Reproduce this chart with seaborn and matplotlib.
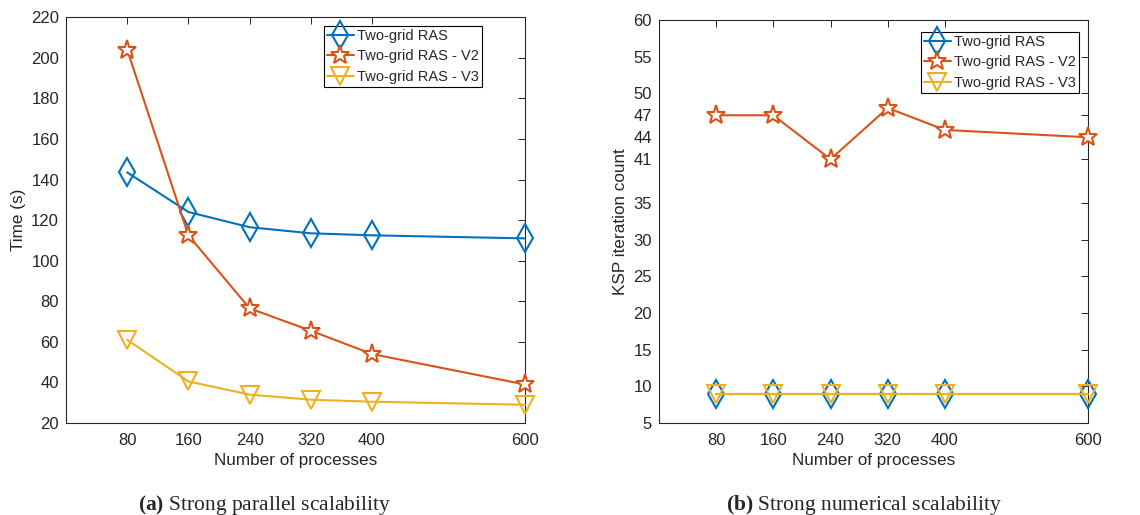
import matplotlib
matplotlib.use("Agg")
import matplotlib.pyplot as plt
import seaborn as sns
import pandas as pd

processes = [80, 160, 240, 320, 400, 600]
series_names = ["Two-grid RAS", "Two-grid RAS - V2", "Two-grid RAS - V3"]

time_ras = [143.5, 124.0, 116.5, 113.5, 112.5, 111.0]
time_v2 = [204.0, 112.5, 76.5, 65.5, 54.0, 39.0]
time_v3 = [61.0, 40.5, 34.0, 31.5, 30.5, 29.0]

iters_ras = [9, 9, 9, 9, 9, 9]
iters_v2 = [47, 47, 41, 48, 45, 44]
iters_v3 = [9, 9, 9, 9, 9, 9]

time_ticks = [20, 40, 60, 80, 100, 120, 140, 160, 180, 200, 220]
iter_ticks = [5, 10, 15, 20, 25, 30, 35, 41, 44, 47, 50, 55, 60]

colors = ["#0072BD", "#D95319", "#EDB120"]
markers = ["d", "*", "v"]
msizes = [14, 14, 13]
facecolors = ["none", "white", "none"]

sns.set_style("white")
plt.rcParams["font.family"] = ["Liberation Sans", "DejaVu Sans"]
plt.rcParams["mathtext.fontset"] = "custom"
plt.rcParams["mathtext.rm"] = "Liberation Serif"
plt.rcParams["mathtext.bf"] = "Liberation Serif:bold"
TEXT = "#262626"

fig = plt.figure(figsize=(11.4, 5.15), dpi=100)
ax1 = fig.add_axes([0.0579, 0.1786, 0.4026, 0.788])
ax2 = fig.add_axes([0.578, 0.1786, 0.3763, 0.7825])


def draw(ax, values, yticks, ylim, ylabel, legend_anchor):
    for name, vals, c, m, ms, fc in zip(series_names, values, colors, markers, msizes, facecolors):
        df = pd.DataFrame({"p": processes, "v": vals})
        sns.lineplot(data=df, x="p", y="v", ax=ax, color=c, marker=m, markersize=ms,
                     markerfacecolor=fc, markeredgecolor=c, markeredgewidth=1.5,
                     linewidth=1.5, label=name, clip_on=False, zorder=3)
    ax.set_xlim(0, 600)
    ax.set_ylim(*ylim)
    ax.set_xticks(processes)
    ax.set_yticks(yticks)
    ax.set_xlabel("Number of processes", fontsize=12.3, color=TEXT, labelpad=4)
    ax.set_ylabel(ylabel, fontsize=12.3, color=TEXT, labelpad=4)
    ax.tick_params(direction="in", length=5, width=0.7, top=True, right=True,
                   labelsize=12, colors=TEXT, pad=7)
    ax.tick_params(axis="y", pad=5)
    for s in ax.spines.values():
        s.set_visible(True)
        s.set_color(TEXT)
        s.set_linewidth(0.8)
    leg = ax.legend(loc="upper right", bbox_to_anchor=legend_anchor,
                    bbox_transform=fig.transFigure, fontsize=10.5, frameon=True,
                    fancybox=False, edgecolor="black", borderpad=0.2,
                    handlelength=1.8, handletextpad=0.25, labelspacing=0.45,
                    borderaxespad=0, framealpha=1)
    leg.get_frame().set_linewidth(0.8)


draw(ax1, [time_ras, time_v2, time_v3], time_ticks, (20, 220), "Time (s)",
     (482 / 1140, 1 - 26 / 515))
draw(ax2, [iters_ras, iters_v2, iters_v3], iter_ticks, (5, 60), "KSP iteration count",
     (1079 / 1140, 1 - 32 / 515))

fig.text(0.2325, 0.02, r"$\mathbf{(a)}$ Strong parallel scalability", ha="center", va="center",
         fontsize=15.5, family="Liberation Serif")
fig.text(0.758, 0.02, r"$\mathbf{(b)}$ Strong numerical scalability", ha="center", va="center",
         fontsize=15.5, family="Liberation Serif")

fig.savefig("out.png", dpi=100)
